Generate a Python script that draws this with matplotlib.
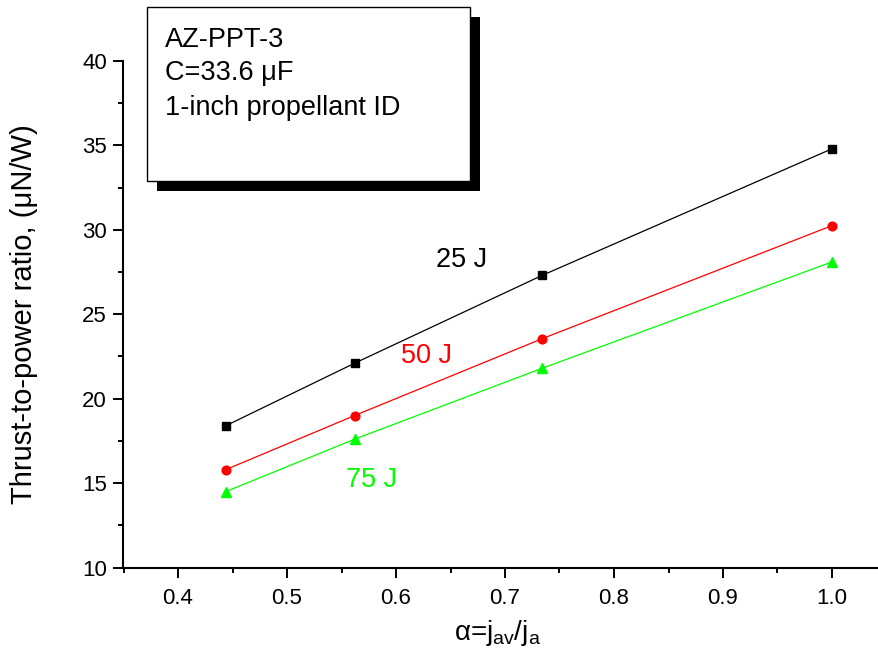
import matplotlib
matplotlib.use("Agg")
import matplotlib.pyplot as plt
from matplotlib.patches import Rectangle
from matplotlib.ticker import MultipleLocator

plt.rcParams["font.family"] = ["Liberation Sans", "DejaVu Sans"]
plt.rcParams["mathtext.fontset"] = "custom"
plt.rcParams["mathtext.rm"] = "Liberation Sans"

# data
alpha = [0.444, 0.562, 0.734, 1.0]
tp_25J = [18.4, 22.1, 27.3, 34.8]
tp_50J = [15.8, 19.0, 23.55, 30.25]
tp_75J = [14.5, 17.6, 21.8, 28.1]

series = [
    ("25 J", tp_25J, "black", "s", 5.5, (0.637, 28.2)),
    ("50 J", tp_50J, "#ff0000", "o", 6.3, (0.605, 22.5)),
    ("75 J", tp_75J, "#00ff00", "^", 6.5, (0.554, 15.2)),
]

W, H = 879, 663
fig = plt.figure(figsize=(W / 100, H / 100), dpi=100)
ax = fig.add_axes([123.5 / W, 95.5 / H, 763 / W, 506.5 / H])

for name, vals, col, mk, ms, pos in series:
    ax.plot(alpha, vals, color=col, lw=0.9, marker=mk, ms=ms, clip_on=False)
    ax.text(pos[0], pos[1], name, color=col, fontsize=19.5, ha="left", va="center")

ax.set_xlim(0.35, 1.05)
ax.set_ylim(10, 40)
ax.xaxis.set_major_locator(MultipleLocator(0.1))
ax.xaxis.set_minor_locator(MultipleLocator(0.05))
ax.yaxis.set_major_locator(MultipleLocator(5))
ax.yaxis.set_minor_locator(MultipleLocator(2.5))
ax.xaxis.set_major_formatter(plt.FuncFormatter(lambda v, p: f"{v:.1f}"))

for s in ["top", "right"]:
    ax.spines[s].set_visible(False)
for s in ["left", "bottom"]:
    ax.spines[s].set_linewidth(1.5)

ax.tick_params(which="major", direction="out", length=7, width=1.4, labelsize=16)
ax.tick_params(which="minor", direction="out", length=3.6, width=1.4)
ax.tick_params(axis="x", which="major", pad=8)
ax.tick_params(axis="y", which="major", pad=5)

ax.set_ylabel("Thrust-to-power ratio, (μN/W)", fontsize=21)
ax.yaxis.set_label_coords(-0.112, 0.5)
ax.set_xlabel(r"α=$\mathregular{j_{av}/j_a}$", fontsize=20)
ax.xaxis.set_label_coords(0.49, -0.1)

# info box with drop shadow
fig.add_artist(Rectangle((157 / W, 1 - 191 / H), 323 / W, 174 / H,
                         transform=fig.transFigure, facecolor="black", edgecolor="none"))
fig.add_artist(Rectangle((147 / W, 1 - 181 / H), 323 / W, 174 / H,
                         transform=fig.transFigure, facecolor="white", edgecolor="black", lw=1))
box_lines = ["AZ-PPT-3", "C=33.6 μF", "1-inch propellant ID"]
baselines = [47, 80, 115]
for line, b in zip(box_lines, baselines):
    fig.text(165 / W, 1 - b / H, line, fontsize=19.5, ha="left", va="baseline")

fig.savefig("out.png", dpi=100)
